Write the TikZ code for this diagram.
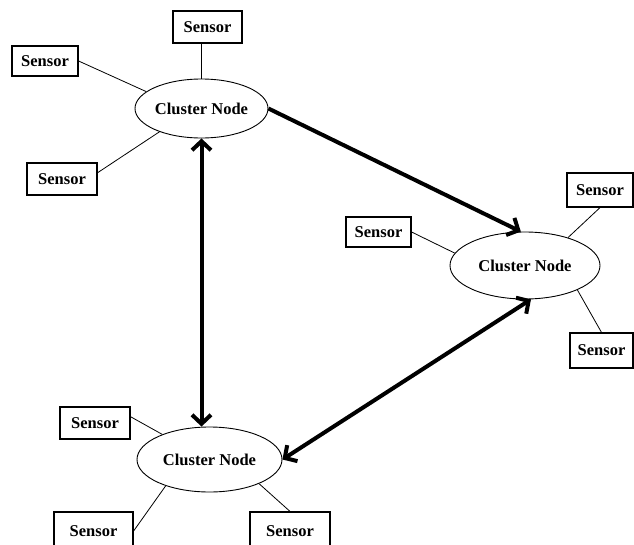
\documentclass[tikz,border=0pt]{standalone}
\usepackage{fontspec}
\setmainfont{Liberation Serif}
\usetikzlibrary{shapes.geometric,arrows.meta}

\begin{document}
\begin{tikzpicture}[x=1pt,y=-1pt,
  lbl/.style={font=\bfseries\fontsize{16.5}{18}\selectfont},
  sensorbox/.style={lbl,draw,line width=1.2pt,rectangle,inner sep=0pt,
    minimum width=#1,minimum height=32pt},
  sensorbox/.default=68pt,
  cluster/.style={lbl,draw,line width=0.9pt,ellipse,inner sep=0pt},
  link/.style={line width=0.8pt},
  barb/.tip={Straight Barb[length=9pt,width=19pt]},
  bigarrow/.style={line width=4pt,arrows={-barb}},
  bothways/.style={line width=4pt,arrows={barb-barb}}
]
\useasboundingbox[fill=white] (0,0) rectangle (634,544);

% cluster heads
\node[cluster,minimum width=133pt,minimum height=59pt] (c1) at (201.5,108.5) {Cluster Node};
\node[cluster,minimum width=150pt,minimum height=67pt] (c2) at (525,265.5) {Cluster Node};
\node[cluster,minimum width=145pt,minimum height=65pt] (c3) at (209.5,459.5) {Cluster Node};

% sensors of the upper cluster
\node[sensorbox=69pt] (s1a) at (207.5,27) {Sensor};
\node[sensorbox=66pt,minimum height=30pt] (s1b) at (45,61) {Sensor};
\node[sensorbox=70pt] (s1c) at (62,179) {Sensor};

% sensors of the right cluster
\node[sensorbox=65pt,minimum height=30pt] (s2a) at (378.5,232) {Sensor};
\node[sensorbox=66pt,minimum height=34pt] (s2b) at (600,190) {Sensor};
\node[sensorbox=63pt,minimum height=35pt] (s2c) at (601.5,350.5) {Sensor};

% sensors of the lower cluster
\node[sensorbox=70pt] (s3a) at (95,423) {Sensor};
\node[sensorbox=79pt,minimum height=38pt] (s3b) at (93.5,531) {Sensor};
\node[sensorbox=80pt,minimum height=38pt] (s3c) at (290,531) {Sensor};

% sensor links
\draw[link] (c1.north) -- (c1.north |- s1a.south);
\draw[link] (s1b.east) -- (c1.163);
\draw[link] (s1c.10) -- (c1.209);

\draw[link] (s2a.east) -- (c2.170);
\draw[link] (s2b.south) -- (c2.33);
\draw[link] (s2c.north) -- (c2.335);

\draw[link] (s3a.10) -- (c3.152);
\draw[link] (s3b.east) -- (c3.211);
\draw[link] (s3c.north) -- (c3.334);

% links between cluster heads
\draw[bigarrow] (c1.east) -- (c2.97);
\draw[bothways] (c1.south) -- (c1.south |- c3.north);
\draw[bothways] (c3.east) -- (c2.280);
\end{tikzpicture}
\end{document}
